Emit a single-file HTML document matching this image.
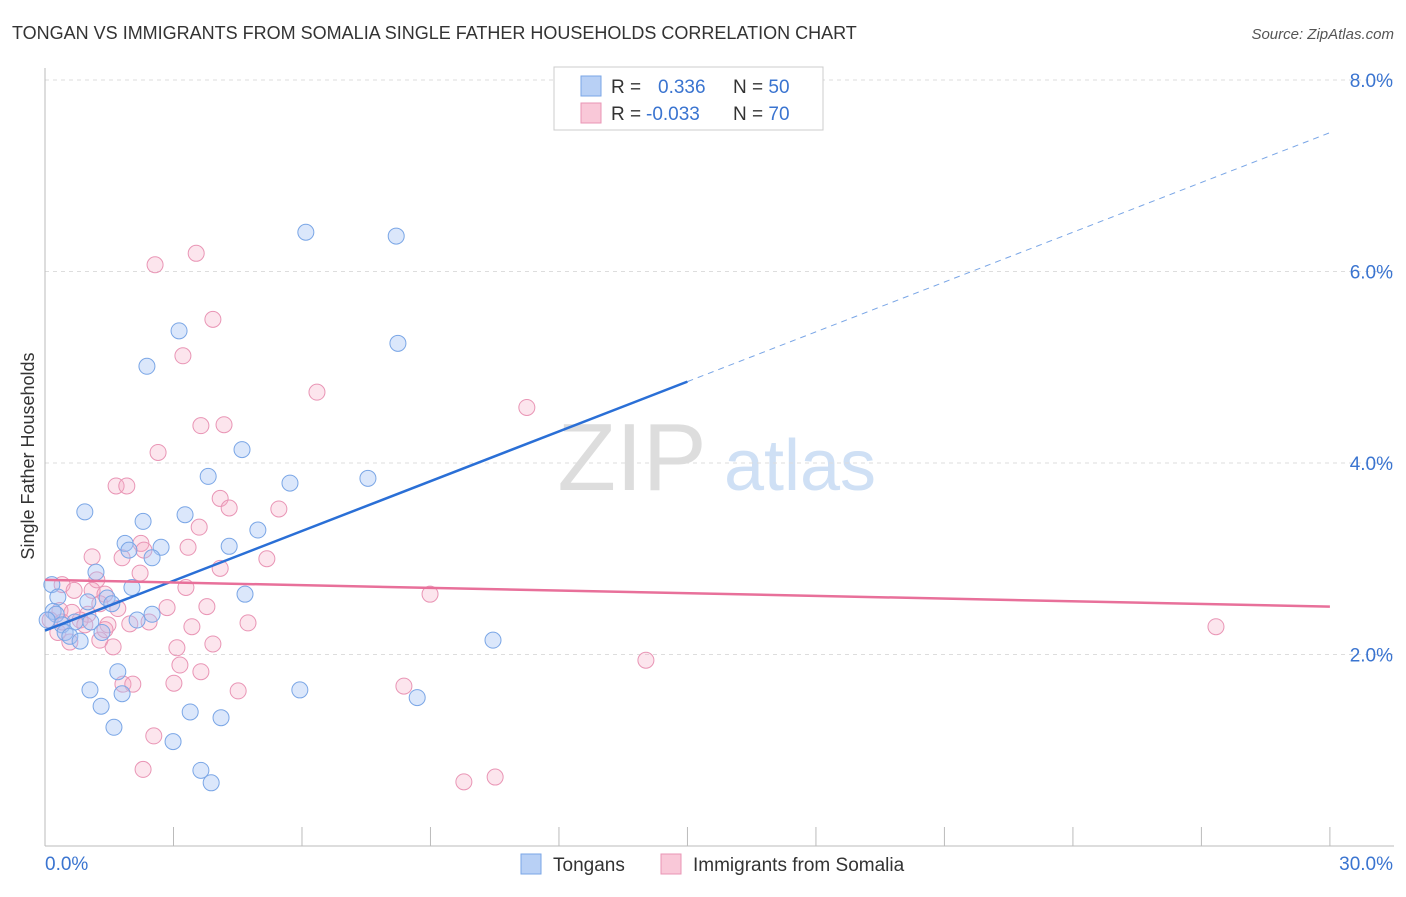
<!DOCTYPE html>
<html><head><meta charset="utf-8"><style>
body{margin:0;background:#fff;font-family:"Liberation Sans",sans-serif}
svg text{font-family:"Liberation Sans",sans-serif}
</style></head><body>
<svg id="c" width="1406" height="892">
<text x="12" y="39" font-size="18" fill="#333">TONGAN VS IMMIGRANTS FROM SOMALIA SINGLE FATHER HOUSEHOLDS CORRELATION CHART</text>
<text x="1394" y="39" font-size="15" fill="#555" font-style="italic" text-anchor="end">Source: ZipAtlas.com</text>
<text x="632" y="490" font-size="96" fill="#ddd" font-family="Liberation Serif" text-anchor="middle">ZIP</text>
<text x="800" y="490" font-size="72" fill="#cfe0f5" text-anchor="middle">atlas</text>
<text x="34" y="456" font-size="18" fill="#333" text-anchor="middle" transform="rotate(-90 34 456)">Single Father Households</text>
<g id="grid"></g><g id="pts"></g><g id="lines"></g>
<g>
<rect x="554" y="67" width="269" height="63" fill="#fff" stroke="#ccc"/>
<rect x="581" y="76" width="20" height="20" fill="#b8d0f5" stroke="#7aa6e6"/>
<rect x="581" y="103" width="20" height="20" fill="#f9c8d8" stroke="#e995b5"/>
<text x="611" y="93" font-size="19" fill="#333">R = <tspan fill="#3a74d0" x="658">0.336</tspan><tspan x="733" fill="#333">N = </tspan><tspan fill="#3a74d0">50</tspan></text>
<text x="611" y="120" font-size="19" fill="#333">R = <tspan fill="#3a74d0" x="646">-0.033</tspan><tspan x="733" fill="#333">N = </tspan><tspan fill="#3a74d0">70</tspan></text>
</g>
<g>
<rect x="521" y="854" width="20" height="20" fill="#b8d0f5" stroke="#7aa6e6"/>
<text x="553" y="871" font-size="19" fill="#333">Tongans</text>
<rect x="661" y="854" width="20" height="20" fill="#f9c8d8" stroke="#e995b5"/>
<text x="693" y="871" font-size="19" fill="#333">Immigrants from Somalia</text>
</g>
</svg>
<script>
const yTicks=[2,4,6,8];
const yTickLabels=["2.0%","4.0%","6.0%","8.0%"];
const xTicks=[0,3,6,9,12,15,18,21,24,27,30];
const blueX=[6.09,8.20,3.13,8.24,2.38,4.60,3.81,5.72,7.54,0.93,2.29,3.27,4.97,1.87,1.96,2.71,4.30,2.50,1.19,0.16,0.30,2.03,4.67,1.45,1.00,1.56,0.19,0.26,0.05,0.70,0.40,1.07,2.15,2.50,0.47,0.58,0.82,1.33,10.46,1.70,1.05,5.95,1.80,8.69,1.31,3.39,4.11,1.61,2.99,3.64,3.88];
const blueY=[6.41,6.37,5.38,5.25,5.01,4.14,3.86,3.79,3.84,3.49,3.39,3.46,3.30,3.16,3.09,3.12,3.13,3.01,2.86,2.73,2.60,2.70,2.63,2.59,2.55,2.53,2.45,2.42,2.36,2.34,2.31,2.34,2.36,2.42,2.23,2.19,2.14,2.23,2.15,1.82,1.63,1.63,1.59,1.55,1.46,1.40,1.34,1.24,1.09,0.79,0.66];
const pinkX=[3.53,2.57,3.92,3.22,6.35,11.25,3.64,4.18,2.64,1.66,1.91,4.09,4.30,5.46,3.60,3.34,2.24,2.31,1.10,1.80,5.18,4.09,2.22,1.21,0.40,0.68,1.10,3.29,1.40,1.28,1.70,1.00,0.82,1.47,3.78,2.85,2.43,3.43,4.74,1.98,0.35,0.12,0.30,0.58,1.28,1.59,3.08,3.92,1.40,8.99,27.34,14.03,3.15,3.64,3.01,1.82,2.05,4.51,8.38,2.54,2.29,9.78,10.51,0.40,0.93,0.63];
const pinkY=[6.19,6.07,5.50,5.12,4.74,4.58,4.39,4.40,4.11,3.76,3.76,3.63,3.53,3.52,3.33,3.12,3.16,3.09,3.02,3.01,3.00,2.90,2.85,2.78,2.73,2.67,2.67,2.70,2.63,2.53,2.48,2.42,2.36,2.31,2.50,2.49,2.34,2.29,2.33,2.32,2.46,2.36,2.23,2.13,2.15,2.08,2.07,2.11,2.26,2.63,2.29,1.94,1.89,1.82,1.70,1.69,1.69,1.62,1.67,1.15,0.80,0.67,0.72,2.34,2.31,2.44];
const blueTrend=[[0,2.25],[15,4.85],[30,7.45]];
const pinkTrend=[[0,2.78],[30,2.5]];
const X=v=>45+v*42.83, Y=v=>846-v*95.75;
const NS="http://www.w3.org/2000/svg";
function mk(p,t,a){const e=document.createElementNS(NS,t);for(const k in a)e.setAttribute(k,a[k]);document.getElementById(p).appendChild(e);return e;}
yTicks.forEach((t,i)=>{
 const g=mk('grid','line',{x1:45,x2:1394,y1:Y(t),y2:Y(t),stroke:'#ddd','stroke-dasharray':'4,4'});
 
 
 const l=mk('grid','text',{x:1393,y:Y(t)+7,'font-size':19,fill:'#3a74d0','text-anchor':'end'});l.textContent=yTickLabels[i];
 
 
});
mk('grid','line',{x1:45,x2:45,y1:68,y2:846,stroke:'#bbb'});
const ax=mk('grid','line',{x1:45,x2:1394,y1:846,y2:846,stroke:'#bbb'});


xTicks.forEach(t=>{mk('grid','line',{x1:X(t),x2:X(t),y1:827,y2:846,stroke:'#bbb'});});
let t0=mk('grid','text',{x:45,y:870,'font-size':19,fill:'#3a74d0'});t0.textContent='0.0%';


let t1=mk('grid','text',{x:1393,y:870,'font-size':19,fill:'#3a74d0','text-anchor':'end'});t1.textContent='30.0%';


pinkX.forEach((v,i)=>{const c=mk('pts','circle',{cx:X(v),cy:Y(pinkY[i]),r:8,fill:'rgba(244,170,195,0.3)',stroke:'#e995b5','stroke-width':1});
 
 });
blueX.forEach((v,i)=>{const c=mk('pts','circle',{cx:X(v),cy:Y(blueY[i]),r:8,fill:'rgba(164,194,244,0.4)',stroke:'#7aa6e6','stroke-width':1});
 
 });
let b1=mk('lines','line',{x1:X(blueTrend[0][0]),y1:Y(blueTrend[0][1]),x2:X(blueTrend[1][0]),y2:Y(blueTrend[1][1]),stroke:'#2a6fd6','stroke-width':2.5});


let b2=mk('lines','line',{x1:X(blueTrend[1][0]),y1:Y(blueTrend[1][1]),x2:X(blueTrend[2][0]),y2:Y(blueTrend[2][1]),stroke:'#7aa6e6','stroke-width':1,'stroke-dasharray':'6,5'});


let p1=mk('lines','line',{x1:X(pinkTrend[0][0]),y1:Y(pinkTrend[0][1]),x2:X(pinkTrend[1][0]),y2:Y(pinkTrend[1][1]),stroke:'#e8709a','stroke-width':2.5});


</script>
</body></html>
